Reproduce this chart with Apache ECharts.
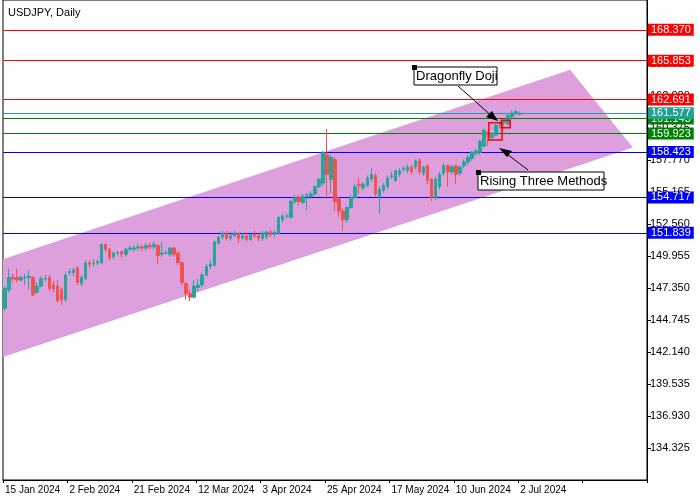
<!DOCTYPE html>
<html><head><meta charset="utf-8">
<script src="https://cdn.jsdelivr.net/npm/echarts@6/dist/echarts.min.js"></script>
<style>html,body{margin:0;padding:0;background:#fff}#c{width:700px;height:500px}</style>
</head><body><div id="c"></div>
<script>
// OHLC: [open, close, low, high]
const ohlc = [
[145.7,147.3,145.5,147.5],[147.2,148.2,147.0,148.9],[148.2,148.1,147.8,148.5],[148.2,148.0,147.8,148.9],
[148.0,148.2,147.9,148.4],[148.2,148.2,147.6,148.5],[148.2,148.3,147.2,148.8],[148.2,146.8,146.7,148.3],
[147.0,147.5,146.9,147.8],[147.5,148.1,147.4,148.3],[148.1,148.1,147.9,148.4],[148.2,147.3,147.1,148.4],
[147.6,147.3,147.0,147.9],[147.5,146.3,146.2,148.0],[147.2,146.4,146.0,147.4],[146.4,148.4,146.2,148.6],
[148.6,148.7,148.4,148.9],[148.6,148.8,148.3,149.0],[149.0,147.8,147.6,149.1],[147.7,148.2,147.5,148.4],
[148.1,149.4,148.0,149.6],[149.4,149.3,149.0,149.6],[149.4,149.4,149.1,149.7],[149.4,149.5,149.2,149.7],
[149.4,150.9,149.3,151.0],[150.9,150.5,150.3,151.0],[150.5,149.8,149.6,150.6],[149.9,150.2,149.7,150.3],
[150.2,150.2,150.0,150.4],[150.3,150.1,149.8,150.4],[150.1,150.5,149.9,150.6],[150.5,150.6,150.3,150.8],
[150.5,150.6,150.3,150.8],[150.6,150.7,150.4,151.0],[150.7,150.6,150.4,150.9],[150.6,150.8,150.4,151.0],
[150.8,150.7,150.5,151.0],[150.7,150.9,150.5,151.1],[150.8,150.0,149.3,150.9],[150.1,150.2,149.9,151.1],
[150.2,150.2,150.1,150.4],[150.1,150.6,149.9,150.7],[150.6,150.1,149.9,150.7],[150.2,149.4,149.2,150.3],
[149.4,147.8,147.6,149.5],[147.7,146.9,146.4,147.9],[146.9,146.6,146.3,147.2],[146.6,147.5,146.5,148.0],
[147.4,147.6,147.1,148.1],[147.6,148.4,147.4,148.6],[148.4,149.1,148.3,149.3],[149.1,149.3,148.9,149.6],
[149.2,151.1,149.1,151.2],[151.0,151.5,150.9,151.6],[151.5,151.8,151.3,152.0],[151.8,151.4,151.2,152.0],
[151.4,151.6,151.2,151.8],[151.6,151.8,151.5,152.0],[151.8,151.4,151.0,151.9],[151.4,151.6,151.3,151.8],
[151.6,151.3,151.1,151.9],[151.3,151.7,151.2,151.9],[151.7,151.6,151.4,152.0],[151.6,151.4,151.1,151.8],
[151.4,151.8,151.2,152.0],[151.5,151.9,151.3,152.0],[151.9,151.7,151.5,152.1],[151.7,151.9,151.5,152.0],
[151.8,153.1,151.7,153.2],[152.9,153.2,152.7,153.4],[153.2,153.2,153.0,153.4],[153.1,154.4,153.0,154.5],
[154.4,154.7,154.2,154.9],[154.7,154.4,154.1,154.9],[154.3,154.8,154.2,155.0],[154.9,154.9,153.7,155.1],
[154.8,155.0,154.6,155.2],[155.0,155.6,154.9,155.7],[155.6,156.2,155.5,156.3],[155.9,158.4,155.7,158.5],
[158.2,156.6,154.6,160.3],[156.2,158.0,155.1,158.2],[157.8,154.4,153.6,158.0],[154.6,153.6,153.1,154.8],
[153.6,152.9,152.0,153.8],[152.9,153.9,152.7,154.0],[153.9,154.7,153.8,154.9],[154.7,155.6,154.6,155.8],
[155.8,155.7,155.0,156.3],[155.5,155.8,155.3,156.0],[155.7,156.3,155.6,156.5],[156.2,156.6,156.0,157.1],
[156.5,155.0,154.8,156.7],[154.8,155.4,153.4,155.6],[155.3,155.7,155.1,155.9],[155.6,156.3,155.4,156.5],
[156.4,156.5,156.2,156.8],[156.1,156.9,156.0,157.0],[156.6,156.9,156.4,157.1],[157.0,157.1,156.8,157.3],
[156.9,157.2,156.7,157.4],[157.2,156.8,156.6,157.4],[157.2,157.7,157.0,157.8],[157.7,156.8,156.6,157.9],
[156.7,157.2,156.5,157.3],[157.3,156.1,155.8,157.4],[156.2,154.7,154.4,156.3],[154.7,156.2,154.5,156.4],
[155.6,156.6,155.4,156.8],[156.7,157.3,156.5,157.5],[157.3,156.8,155.6,157.4],[156.8,157.2,156.6,157.4],
[157.3,156.6,155.8,157.4],[156.7,157.2,156.5,157.3],[157.3,157.6,157.1,157.8],[157.6,158.0,157.4,158.2],
[157.9,158.4,157.7,158.5],[158.3,158.5,158.1,158.7],[158.4,159.3,158.2,159.4],[158.9,160.2,158.8,160.3],
[160.0,159.8,158.9,160.1],[159.6,159.8,159.4,160.0],[159.8,160.6,159.7,160.7],[160.75,160.78,160.35,160.8],
[160.8,160.9,160.6,161.0],[160.7,161.4,160.6,161.5],[161.3,161.6,161.2,161.8],[161.6,161.7,161.4,161.9],
[161.5,161.577,161.4,161.7]
];
const totalSlots = 160;
const dateLabels = ['15 Jan 2024','2 Feb 2024','21 Feb 2024','12 Mar 2024','3 Apr 2024','25 Apr 2024','17 May 2024','10 Jun 2024','2 Jul 2024'];
const redLevels = [168.370,165.853,162.691];
const tealLevels = [161.577];
const greenLevels = [161.145,159.923];
const blueLevels = [158.423,154.717,151.839];
// channel polygon corners [bar index, price]
const channel = [[-0.5,149.69],[140.4,165.12],[156.0,158.78],[-0.5,141.73]];
// pattern boxes [i0,i1,pLow,pHigh]
const boxes = [[120.2,123.5,159.4,160.8],[123.3,125.5,160.4,161.0]];

const FONT = 'Liberation Sans';
const cats = Array.from({length: totalSlots}, (_, i) => i);
const ml = [];
const add = (arr, col, bg) => arr.forEach(v => ml.push({yAxis: v, lineStyle:{color: col, type:'solid', width:1},
  label:{show:true, position:'end', formatter: v.toFixed(3), color:'#fff', backgroundColor: bg, padding:[1,3,0,3], fontSize:11, fontFamily:FONT, distance:1}}));
add(redLevels,'#ff0000','#ff0000');
add(greenLevels,'#008000','#008000');
add(tealLevels,'#20a090','#20a090');
add(blueLevels,'#0000ff','#0000ff');

const chart = echarts.init(document.getElementById('c'));
chart.setOption({
  animation:false,
  title:{text:'USDJPY, Daily', left:3, top:2, textStyle:{fontSize:11, fontWeight:'normal', fontFamily:FONT, color:'#000'}},
  grid:{left:3, right:53, top:-3, height:483, show:true, borderColor:'#000', borderWidth:1, backgroundColor:'transparent'},
  xAxis:[{type:'category', data:cats, boundaryGap:true,
    axisLine:{onZero:false, lineStyle:{color:'#000'}}, axisTick:{show:true, interval:15, lineStyle:{color:'#000'}, length:3},
    axisLabel:{interval:15, align:'left', fontSize:10, fontFamily:FONT, color:'#000', margin:5,
      formatter:(v, idx)=> dateLabels[idx/16] || ''}, splitLine:{show:false}},
    {type:'value', min:-0.5, max:totalSlots-0.5, show:false}],
  yAxis:{type:'value', position:'right', min:131.72, max:170.795, interval:2.605,
    axisLine:{show:true, onZero:false, lineStyle:{color:'#000'}}, axisTick:{show:true, length:4, lineStyle:{color:'#000'}},
    axisLabel:{showMinLabel:false, showMaxLabel:false, fontSize:11, fontFamily:FONT, color:'#000', margin:3, formatter:v=>v.toFixed(3)},
    splitLine:{show:false}},
  series:[
    {type:'custom', xAxisIndex:1, z:1, silent:true, data:[0],
      renderItem:(p, api)=>({type:'polygon', shape:{points: channel.map(c=>api.coord(c))}, style:{fill:'#dda0dd'}})},
    {type:'candlestick', xAxisIndex:0, z:3, data:ohlc.map(d=>[d[0],d[1],d[2],d[3]]), barWidth:3,
      itemStyle:{color:'#26a69a', color0:'#ef5350', borderColor:'#26a69a', borderColor0:'#ef5350', borderWidth:1},
      markLine:{symbol:'none', silent:true, z:2, data: ml}},
    {type:'custom', xAxisIndex:1, z:5, silent:true, data:boxes,
      renderItem:(p, api)=>{
        const b = boxes[p.dataIndex];
        const a = api.coord([b[0], b[3]]), c = api.coord([b[1], b[2]]);
        return {type:'rect', shape:{x:a[0], y:a[1], width:c[0]-a[0], height:c[1]-a[1]}, style:{fill:null, stroke:'#ff0000', lineWidth:1.5}};
      }}
  ],
  graphic:[
    {type:'group', z:100, children:[
      {type:'rect', z:100, shape:{x:414, y:67, width:83, height:18}, style:{fill:'#fff', stroke:'#000', lineWidth:1}},
      {type:'rect', z:101, shape:{x:412, y:65, width:5, height:5}, style:{fill:'#000'}},
      {type:'text', z:101, style:{x:416, y:70, text:'Dragonfly Doji', fontSize:13, fontFamily:FONT, fill:'#000'}},
      {type:'line', z:100, shape:{x1:458, y1:86, x2:494, y2:118}, style:{stroke:'#000', lineWidth:1}},
      {type:'polygon', z:100, shape:{points:[[498,121],[486,117],[492,111]]}, style:{fill:'#000'}},
      {type:'rect', z:100, shape:{x:478, y:172, width:126, height:18}, style:{fill:'#fff', stroke:'#000', lineWidth:1}},
      {type:'rect', z:101, shape:{x:476, y:170, width:5, height:5}, style:{fill:'#000'}},
      {type:'text', z:101, style:{x:480, y:175, text:'Rising Three Methods', fontSize:13, fontFamily:FONT, fill:'#000'}},
      {type:'line', z:100, shape:{x1:528, y1:170, x2:503, y2:151}, style:{stroke:'#000', lineWidth:1}},
      {type:'polygon', z:100, shape:{points:[[499,148],[512,151],[507,157]]}, style:{fill:'#000'}}
    ]}
  ]
});
</script></body></html>
